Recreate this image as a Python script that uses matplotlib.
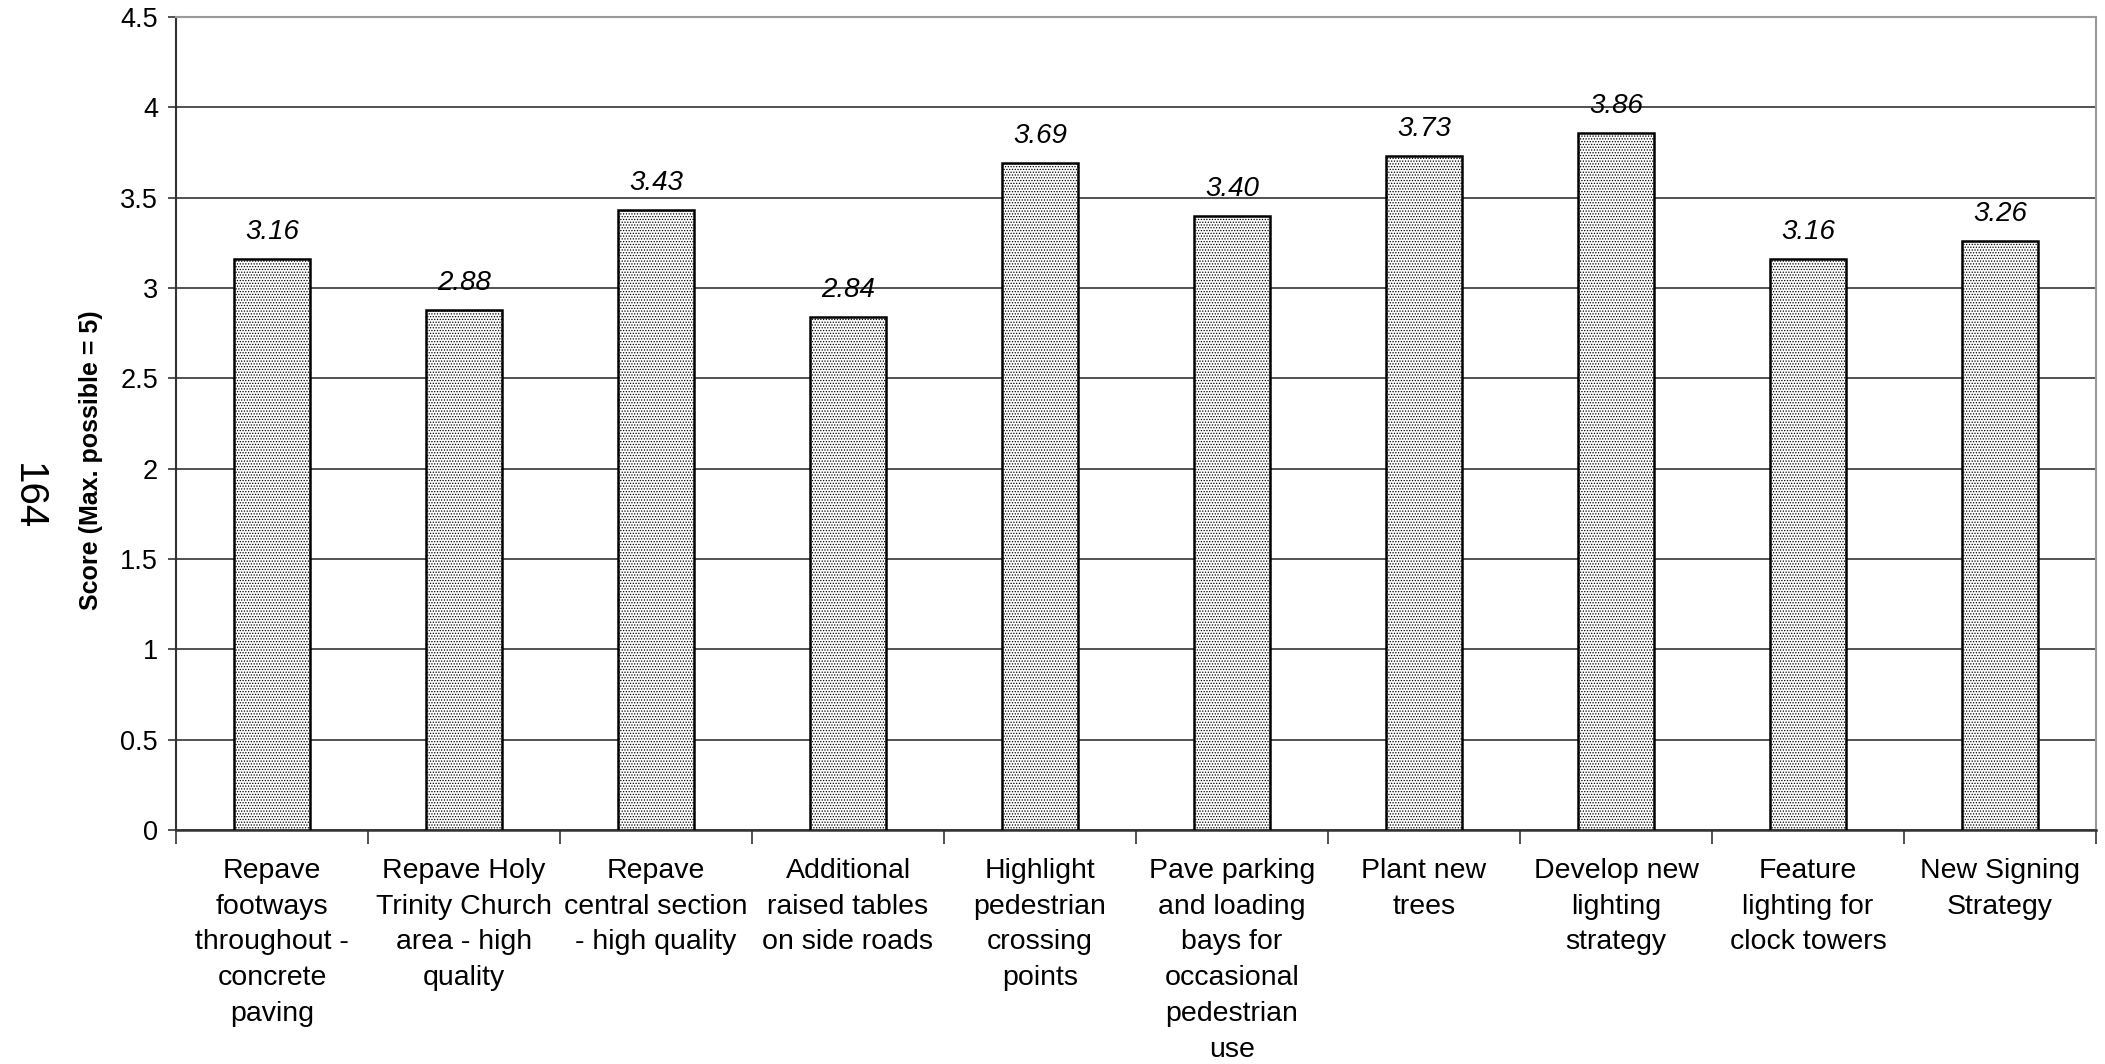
import matplotlib
matplotlib.use("Agg")
import matplotlib.pyplot as plt
import numpy as np

plt.rcParams['font.family'] = ['Liberation Sans', 'DejaVu Sans']
plt.rcParams['hatch.color'] = '#444444'
plt.rcParams['hatch.linewidth'] = 0.6

categories = [
    "Repave\nfootways\nthroughout -\nconcrete\npaving",
    "Repave Holy\nTrinity Church\narea - high\nquality",
    "Repave\ncentral section\n- high quality",
    "Additional\nraised tables\non side roads",
    "Highlight\npedestrian\ncrossing\npoints",
    "Pave parking\nand loading\nbays for\noccasional\npedestrian\nuse",
    "Plant new\ntrees",
    "Develop new\nlighting\nstrategy",
    "Feature\nlighting for\nclock towers",
    "New Signing\nStrategy",
]
scores = [3.16, 2.88, 3.43, 2.84, 3.69, 3.40, 3.73, 3.86, 3.16, 3.26]
y_ticks = [0, 0.5, 1, 1.5, 2, 2.5, 3, 3.5, 4, 4.5]
y_tick_labels = ["0", "0.5", "1", "1.5", "2", "2.5", "3", "3.5", "4", "4.5"]

W, H = 2105, 1064
fig = plt.figure(figsize=(W / 100, H / 100), dpi=100)
ax = fig.add_axes([176 / W, 1 - 830 / H, (2096 - 176) / W, (830 - 17) / H])

x = np.arange(len(scores))
bars = ax.bar(x, scores, width=0.4, facecolor='white', edgecolor='black',
              linewidth=1.8, hatch='......', zorder=3)

for xi, v in zip(x, scores):
    ax.annotate(f"{v:.2f}", (xi, v), xytext=(0, 10), textcoords='offset points',
                ha='center', va='bottom', fontsize=20, fontstyle='italic', zorder=4)

ax.set_xlim(-0.5, len(scores) - 0.5)
ax.set_ylim(0, 4.5)
ax.set_yticks(y_ticks)
ax.set_yticklabels(y_tick_labels, fontsize=19.5)
ax.yaxis.grid(True, color='#333333', linewidth=1.2, zorder=0)
ax.set_axisbelow(True)

# category labels centred under bars, tick marks between categories
ax.set_xticks(x)
ax.set_xticklabels(categories, fontsize=20.5, linespacing=1.49)
ax.tick_params(axis='x', length=0, pad=20)
ax.set_xticks(np.arange(-0.5, len(scores), 1.0), minor=True)
ax.tick_params(axis='x', which='minor', length=10, width=1.2, color='#333333')
ax.tick_params(axis='y', length=6, width=1.2, color='#333333', pad=7)

for side in ['top', 'right']:
    ax.spines[side].set_color('#999999')
    ax.spines[side].set_linewidth(1.5)
ax.spines['left'].set_color('#333333')
ax.spines['left'].set_linewidth(1.5)
ax.spines['bottom'].set_color('#333333')
ax.spines['bottom'].set_linewidth(1.8)

fig.text(91 / W, 1 - 460 / H, "Score (Max. possible = 5)", rotation=90,
         ha='center', va='center', fontsize=18, fontweight='bold')
fig.text(28 / W, 1 - 497 / H, "164", rotation=-90,
         ha='center', va='center', fontsize=29)

fig.savefig("out.png", dpi=100, facecolor='white')
